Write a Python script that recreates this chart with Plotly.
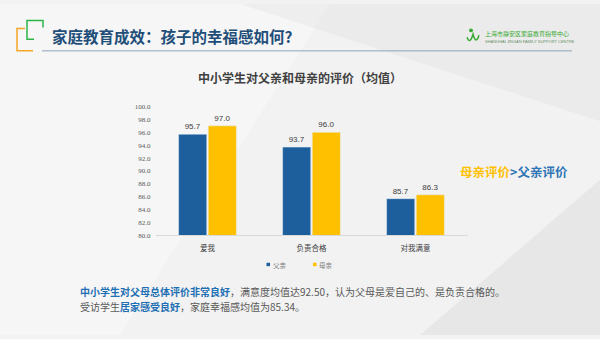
import plotly.graph_objects as go

categories = ["爱我", "负责合格", "对我满意"]
father = [95.7, 93.7, 85.7]
mother = [97.0, 96.0, 86.3]
series_names = ["父亲", "母亲"]
y_ticks = [80, 82, 84, 86, 88, 90, 92, 94, 96, 98, 100]

W, H = 600, 339
BLUE = "#1d5f9c"
YELLOW = "#ffc000"
CJK = "Noto Sans CJK SC"

def px(x):
    return x / W

def py(y):
    return 1 - y / H

fig = go.Figure()
fig.add_trace(go.Bar(name=series_names[0], x=categories, y=father, marker_color=BLUE,
                     text=father, texttemplate="%{y:.1f}", textposition="outside",
                     textfont=dict(size=8, color="#404040", family="Liberation Sans"),
                     cliponaxis=False, showlegend=False))
fig.add_trace(go.Bar(name=series_names[1], x=categories, y=mother, marker_color=YELLOW,
                     text=mother, texttemplate="%{y:.1f}", textposition="outside",
                     textfont=dict(size=8, color="#404040", family="Liberation Sans"),
                     cliponaxis=False, showlegend=False))

shapes = []
shapes.append(dict(type="path", xref="paper", yref="paper", layer="below",
                   path=f"M {px(0)},{py(0)} L {px(330)},{py(0)} L {px(120)},{py(339)} L {px(0)},{py(339)} Z",
                   fillcolor="rgba(255,255,255,0.35)", line_width=0))
shapes.append(dict(type="path", xref="paper", yref="paper", layer="below",
                   path=f"M {px(600)},{py(180)} L {px(600)},{py(339)} L {px(420)},{py(339)} Z",
                   fillcolor="rgba(200,200,200,0.25)", line_width=0))
shapes.append(dict(type="path", xref="paper", yref="paper", layer="below",
                   path=f"M {px(240)},{py(0)} L {px(600)},{py(0)} L {px(600)},{py(120)} Z",
                   fillcolor="rgba(210,210,210,0.2)", line_width=0))
shapes.append(dict(type="path", xref="paper", yref="paper",
                   path=f"M {px(43)},{py(24)} L {px(43)},{py(17)} L {px(27)},{py(17)} L {px(27)},{py(36)} L {px(34)},{py(36)}",
                   line=dict(color="#2db34a", width=1.5)))
shapes.append(dict(type="path", xref="paper", yref="paper",
                   path=f"M {px(25)},{py(25)} L {px(17)},{py(25)} L {px(17)},{py(48)} L {px(33)},{py(48)}",
                   line=dict(color="#f5a623", width=1.5)))
shapes.append(dict(type="line", xref="paper", yref="paper",
                   x0=px(42), x1=px(572), y0=py(48), y1=py(48),
                   line=dict(color="#8fa3b8", width=1)))
shapes.append(dict(type="circle", xref="paper", yref="paper",
                   x0=px(469), x1=px(473), y0=py(25), y1=py(29),
                   fillcolor="#3aaa35", line_width=0))
shapes.append(dict(type="path", xref="paper", yref="paper",
                   path=f"M {px(467)},{py(34)} Q {px(470)},{py(42)} {px(473)},{py(31)} Q {px(476)},{py(42)} {px(479)},{py(32)}",
                   line=dict(color="#3aaa35", width=1.5)))
legend_colors = [BLUE, YELLOW]
legend_x = [266.5, 313]
for c, lx in zip(legend_colors, legend_x):
    shapes.append(dict(type="rect", xref="paper", yref="paper",
                       x0=px(lx), x1=px(lx + 3.5), y0=py(265), y1=py(268.5),
                       fillcolor=c, line_width=0))


def note(text, x, y, size, color, anchor="left", bold=False, family=CJK):
    t = f"<b>{text}</b>" if bold else text
    return dict(text=t, x=px(x), y=py(y), xref="paper", yref="paper", xanchor=anchor, yanchor="middle",
                showarrow=False, font=dict(family=family, size=size, color=color))

annotations = [
    note("家庭教育成效：孩子的幸福感如何?", 50, 33, 15.5, "#1f4e79", bold=True),
    note("上海市静安区家庭教育指导中心", 483, 30, 6, "#3aaa35"),
    note("SHANGHAI JINGAN FAMILY SUPPORT CENTRE", 483, 38, 4, "#6a8f6a", family="Liberation Sans"),
    note("中小学生对父亲和母亲的评价（均值）", 300, 75, 12, "#404040", anchor="center", bold=True),
    note("母亲评价", 458, 172, 12.5, YELLOW, bold=True),
    note("&gt;父亲评价", 508, 172, 12.5, "#2e75b6", bold=True),
    note("中小学生对父母总体评价非常良好", 78, 294, 10, "#1f6fb4", bold=True),
    note("，满意度均值达92.50，认为父母是爱自己的、是负责合格的。", 228, 294, 10, "#595959"),
    note("受访学生", 78, 310, 10, "#595959"),
    note("居家感受良好", 118, 310, 10, "#1f6fb4", bold=True),
    note("，家庭幸福感均值为85.34。", 178, 310, 10, "#595959"),
]
for name, lx in zip(series_names, legend_x):
    annotations.append(note(name, lx + 4.2, 266.8, 6.5, "#7f7f7f"))

fig.update_layout(
    width=W, height=H,
    margin=dict(l=0, r=0, t=0, b=0),
    paper_bgcolor="#f2f2f2",
    plot_bgcolor="rgba(0,0,0,0)",
    barmode="group",
    bargap=0.43,
    bargroupgap=0.05,
    showlegend=False,
    xaxis=dict(domain=[px(155.5), px(467.5)], showline=True, linecolor="#d9d9d9", linewidth=1,
               ticks="", tickfont=dict(family=CJK, size=7.5, color="#404040"), ticklabelstandoff=6,
               showgrid=False, zeroline=False),
    yaxis=dict(domain=[py(237), py(105)], range=[80, 100], tickvals=y_ticks, tickformat=".1f",
               showgrid=False, zeroline=False, showline=False, ticks="",
               tickfont=dict(family="Liberation Serif", size=7, color="#595959"), ticklabelstandoff=4),
    shapes=shapes,
    annotations=annotations,
)

fig.write_html("out.html")
